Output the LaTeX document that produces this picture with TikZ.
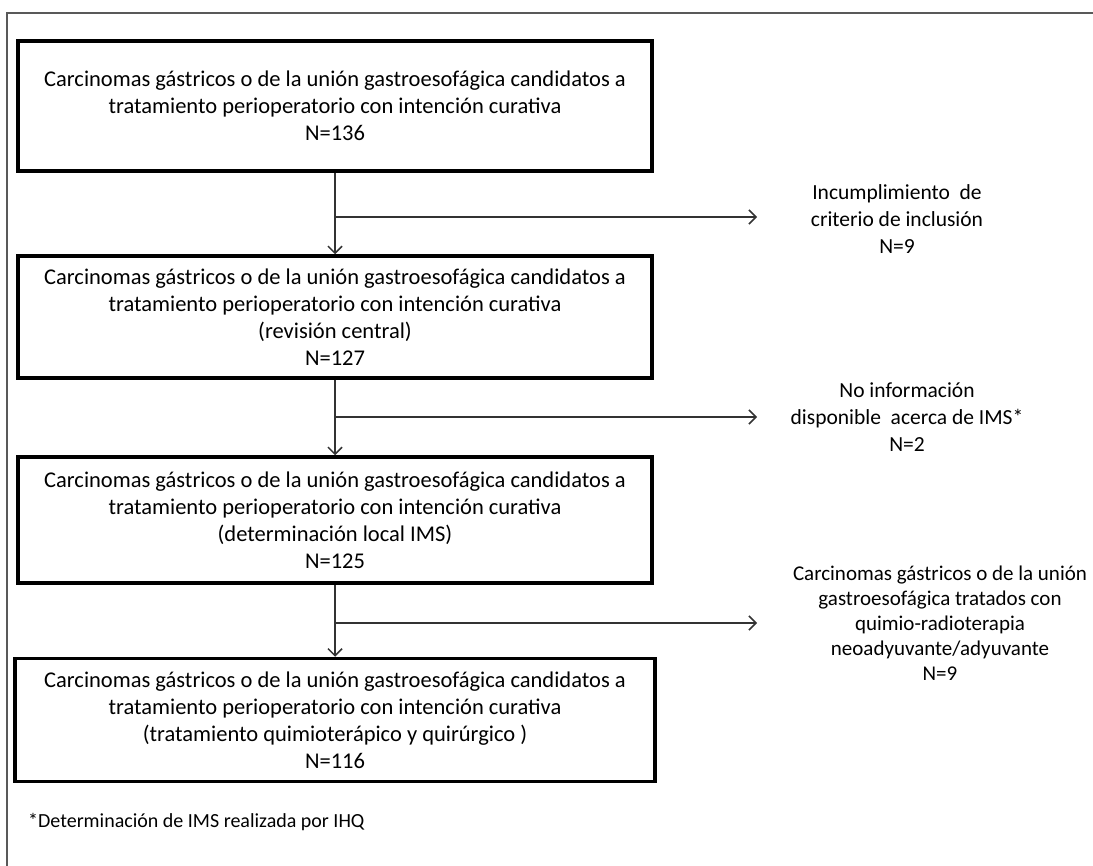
\documentclass[tikz,border=0pt]{standalone}
\usepackage{fontspec}
\setmainfont{Carlito}
\usetikzlibrary{arrows.meta}
\begin{document}
\begin{tikzpicture}[x=1pt,y=-1pt,font=\fontsize{22.5}{27}\selectfont,
  caja/.style={draw,line width=3.5pt,align=center,inner sep=0pt,minimum width=634pt},
  linea/.style={line width=1.5pt,draw=black!80},
  flecha/.style={linea,-{Straight Barb[length=7pt,width=14pt,line width=1.5pt]}},
  nota/.style={align=center,inner sep=0pt,font=\fontsize{21.5}{27}\selectfont}]
  \useasboundingbox (0,0) rectangle (1093,866);
  \draw[line width=1.5pt,black!65] (1093,13) -- (7,13) -- (7,866);

  \node[caja,minimum height=130pt] (c1) at (335,106)
    {Carcinomas gástricos o de la unión gastroesofágica candidatos a\\
     tratamiento perioperatorio con intención curativa\\ N=136};
  \node[caja,minimum height=122pt] (c2) at (335,317)
    {Carcinomas gástricos o de la unión gastroesofágica candidatos a\\
     tratamiento perioperatorio con intención curativa\\
     (revisión central)\\ N=127};
  \node[caja,minimum height=126pt] (c3) at (335,520)
    {Carcinomas gástricos o de la unión gastroesofágica candidatos a\\
     tratamiento perioperatorio con intención curativa\\
     (determinación local IMS)\\ N=125};
  \node[caja,minimum height=123pt,minimum width=640pt] (c4) at (335,720)
    {Carcinomas gástricos o de la unión gastroesofágica candidatos a\\
     tratamiento perioperatorio con intención curativa\\
     (tratamiento quimioterápico y quirúrgico )\\ N=116};

  \node[nota] (e1) at (897,219) {Incumplimiento\ \ de\\ criterio de inclusión\\ N=9};
  \node[nota] (e2) at (907,417) {No información\\ disponible\ \ acerca de IMS*\\ N=2};
  \node[nota,font=\fontsize{21}{25}\selectfont] (e3) at (940,623)
    {Carcinomas gástricos o de la unión\\
     gastroesofágica tratados con\\ quimio-radioterapia\\
     neoadyuvante/adyuvante\\ N=9};

  \node[anchor=west,inner sep=0pt,font=\fontsize{20}{24}\selectfont] (pie) at (28,822)
    {*Determinación de IMS realizada por IHQ};

  \coordinate (j1) at (335,217);
  \coordinate (t1) at (757,217);
  \coordinate (j2) at (335,417);
  \coordinate (t2) at (757,417);
  \coordinate (j3) at (335,623);
  \coordinate (t3) at (757,623);

  \draw[flecha] (c1.south) -- (c2.north);
  \draw[flecha] (c2.south) -- (c3.north);
  \draw[flecha] (c3.south) -- (c4.north);
  \draw[flecha] (j1) -- (t1);
  \draw[flecha] (j2) -- (t2);
  \draw[flecha] (j3) -- (t3);
\end{tikzpicture}
\end{document}
